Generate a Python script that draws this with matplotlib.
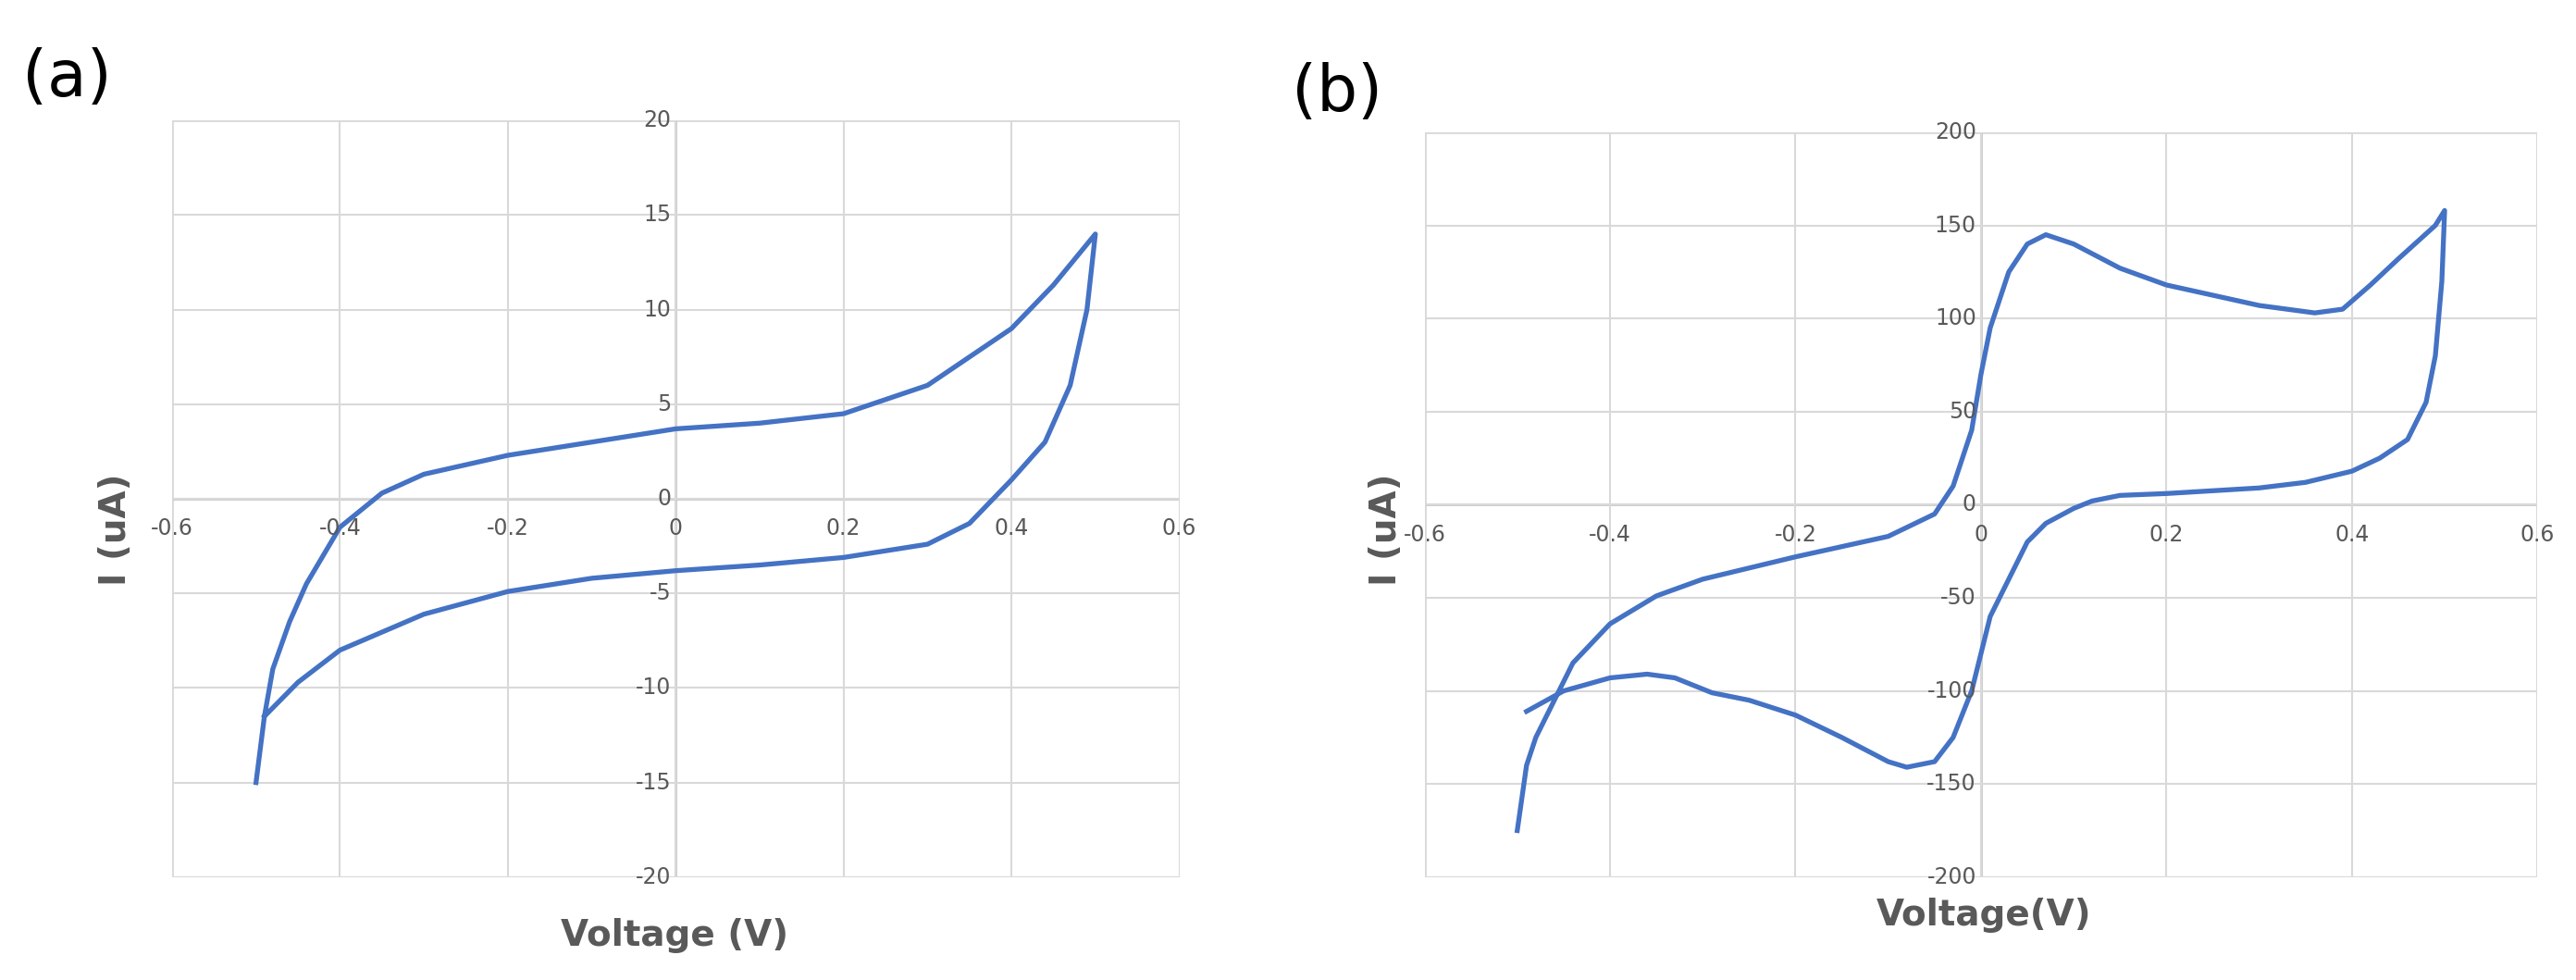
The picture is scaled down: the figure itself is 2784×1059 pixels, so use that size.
import numpy as np
import matplotlib
matplotlib.use("Agg")
import matplotlib.pyplot as plt
from matplotlib.patches import Rectangle

# panel (a) sweep
volt_a = [-0.5, -0.49, -0.48, -0.46, -0.44, -0.4, -0.35, -0.3, -0.2, -0.1, 0.0, 0.1, 0.2, 0.3, 0.4, 0.45, 0.5,
          0.49, 0.47, 0.44, 0.4, 0.35, 0.3, 0.2, 0.1, 0.0, -0.1, -0.2, -0.3, -0.4, -0.45, -0.49]
curr_a = [-15, -11.5, -9, -6.5, -4.5, -1.5, 0.3, 1.3, 2.3, 3.0, 3.7, 4.0, 4.5, 6.0, 9.0, 11.3, 14,
          10, 6, 3, 1, -1.3, -2.4, -3.1, -3.5, -3.8, -4.2, -4.9, -6.1, -8.0, -9.7, -11.5]

# panel (b) sweep
volt_b = [-0.5, -0.49, -0.48, -0.46, -0.44, -0.4, -0.35, -0.3, -0.2, -0.1, -0.05, -0.03, -0.01, 0.0, 0.01, 0.03,
          0.05, 0.07, 0.1, 0.15, 0.2, 0.3, 0.36, 0.39, 0.42, 0.45, 0.49, 0.5,
          0.497, 0.49, 0.48, 0.46, 0.43, 0.4, 0.35, 0.3, 0.2, 0.15, 0.12, 0.1, 0.07, 0.05, 0.03, 0.01, 0.0,
          -0.01, -0.03, -0.05, -0.08, -0.1, -0.15, -0.2, -0.25, -0.29, -0.3, -0.33, -0.36, -0.4, -0.45, -0.49]
curr_b = [-175, -140, -125, -105, -85, -64, -49, -40, -28, -17, -5, 10, 40, 70, 95, 125,
          140, 145, 140, 127, 118, 107, 103, 105, 118, 132, 150, 158,
          120, 80, 55, 35, 25, 18, 12, 9, 6, 5, 2, -2, -10, -20, -40, -60, -80,
          -100, -125, -138, -141, -138, -125, -113, -105, -101, -99, -93, -91, -93, -100, -111]

blue = "#4472C4"
grid_c = "#D9D9D9"
txt_c = "#595959"

fig = plt.figure(figsize=(27.84, 10.59), dpi=100)


def style(ax, yticks):
    ax.set_xlim(-0.6, 0.6)
    ax.set_ylim(yticks[0], yticks[-1])
    ax.set_xticks([-0.6, -0.4, -0.2, 0, 0.2, 0.4, 0.6])
    ax.set_yticks(yticks)
    ax.grid(True, color=grid_c, linewidth=1.5)
    for s in ax.spines.values():
        s.set_visible(False)
    ax.add_patch(Rectangle((0, 0), 1, 1, transform=ax.transAxes, fill=False,
                           edgecolor=grid_c, linewidth=2, zorder=0))
    ax.axhline(0, color="#BFBFBF", linewidth=1.8, zorder=1)
    ax.axvline(0, color="#BFBFBF", linewidth=1.8, zorder=1)
    ax.set_xticklabels([])
    ax.set_yticklabels([])
    ax.tick_params(length=0)
    # Excel-style labels sitting on the zero lines
    for x in ax.get_xticks():
        ax.text(x, 0, "0" if x == 0 else f"{x:g}", ha="center", va="top", fontsize=17,
                color=txt_c, transform=ax.get_xaxis_transform() if False else ax.transData,
                clip_on=False).set_y(-(yticks[-1] - yticks[0]) * 0.025)
    for y in yticks:
        ax.text(-0.005, y, f"{y:g}", ha="right", va="center", fontsize=17, color=txt_c)


ax1 = fig.add_axes([0.0668, 0.105, 0.391, 0.772])
ax1.plot(volt_a, curr_a, color=blue, linewidth=3.8, zorder=3)
style(ax1, [-20, -15, -10, -5, 0, 5, 10, 15, 20])

ax2 = fig.add_axes([0.553, 0.105, 0.432, 0.760])
ax2.plot(volt_b, curr_b, color=blue, linewidth=3.8, zorder=3)
style(ax2, [-200, -150, -100, -50, 0, 50, 100, 150, 200])

fig.text(0.026, 0.92, "(a)", fontsize=50, ha="center", va="center")
fig.text(0.519, 0.905, "(b)", fontsize=50, ha="center", va="center")
fig.text(0.045, 0.46, "I (uA)", fontsize=28, fontweight="bold", color=txt_c, rotation=90,
         ha="center", va="center")
fig.text(0.538, 0.46, "I (uA)", fontsize=28, fontweight="bold", color=txt_c, rotation=90,
         ha="center", va="center")
fig.text(0.262, 0.045, "Voltage (V)", fontsize=28, fontweight="bold", color=txt_c,
         ha="center", va="center")
fig.text(0.77, 0.066, "Voltage(V)", fontsize=28, fontweight="bold", color=txt_c,
         ha="center", va="center")

fig.savefig("out.png", dpi=100)
